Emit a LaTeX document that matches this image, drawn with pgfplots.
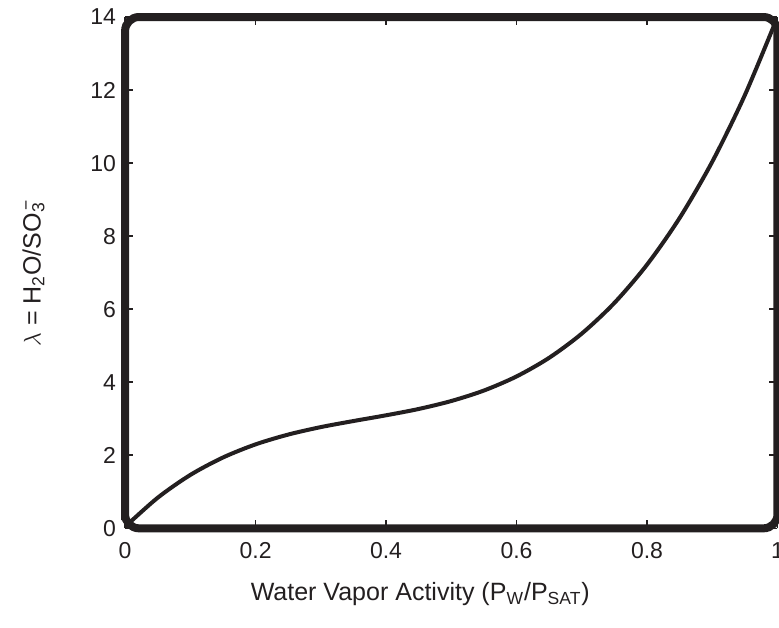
\documentclass[border=0pt]{standalone}
\usepackage{fontspec}
\setmainfont{Liberation Sans}
\usepackage{pgfplots}
\pgfplotsset{compat=1.18}
\usetikzlibrary{calc}
\definecolor{ink}{HTML}{231F20}
\begin{document}
\begin{tikzpicture}
\begin{axis}[
  name=ax,
  scale only axis,
  width=326pt, height=255.5pt,
  xmin=0, xmax=1, ymin=0, ymax=14,
  xtick={0,0.2,0.4,0.6,0.8,1},
  xticklabels={0,0.2,0.4,0.6,0.8,1},
  ytick={0,2,4,6,8,10,12,14},
  tick align=inside,
  major tick length=4pt,
  tick style={line width=0.8pt, color=ink},
  axis line style={line width=4pt, color=ink, rounded corners=7pt},
  /pgf/number format/assume math mode=true,
  ticklabel style={font=\fontsize{11.5}{13}\selectfont, text=ink},
  xticklabel style={yshift=-3.5pt},
  yticklabel style={xshift=-1pt},
  label style={font=\fontsize{12.5}{14}\selectfont, text=ink},
  xlabel={Water Vapor Activity (P\textsubscript{W}/P\textsubscript{SAT})},
  ylabel={$\lambda$ = H\textsubscript{2}O/SO\rlap{\textsubscript{3}}\textsuperscript{\,\textminus}},
  xlabel style={yshift=-5pt, xshift=-15.5pt},
  ylabel style={yshift=16pt},
]
\addplot[ink, line width=2pt, smooth] coordinates {
(0,0.043) (0.05,0.838) (0.1,1.462) (0.15,1.939) (0.2,2.299) (0.25,2.567)
(0.3,2.772) (0.35,2.938) (0.4,3.095) (0.45,3.268) (0.5,3.486) (0.55,3.773)
(0.6,4.159) (0.65,4.669) (0.7,5.332) (0.75,6.172) (0.8,7.219) (0.85,8.498)
(0.9,10.038) (0.95,11.863) (1.0,14.003)
};
\end{axis}
\pgfresetboundingbox
\path[use as bounding box] ($(ax.south west)+(-62.5pt,-49.5pt)$) rectangle ($(ax.north east)+(0.75pt,8.5pt)$);
\end{tikzpicture}
\end{document}
